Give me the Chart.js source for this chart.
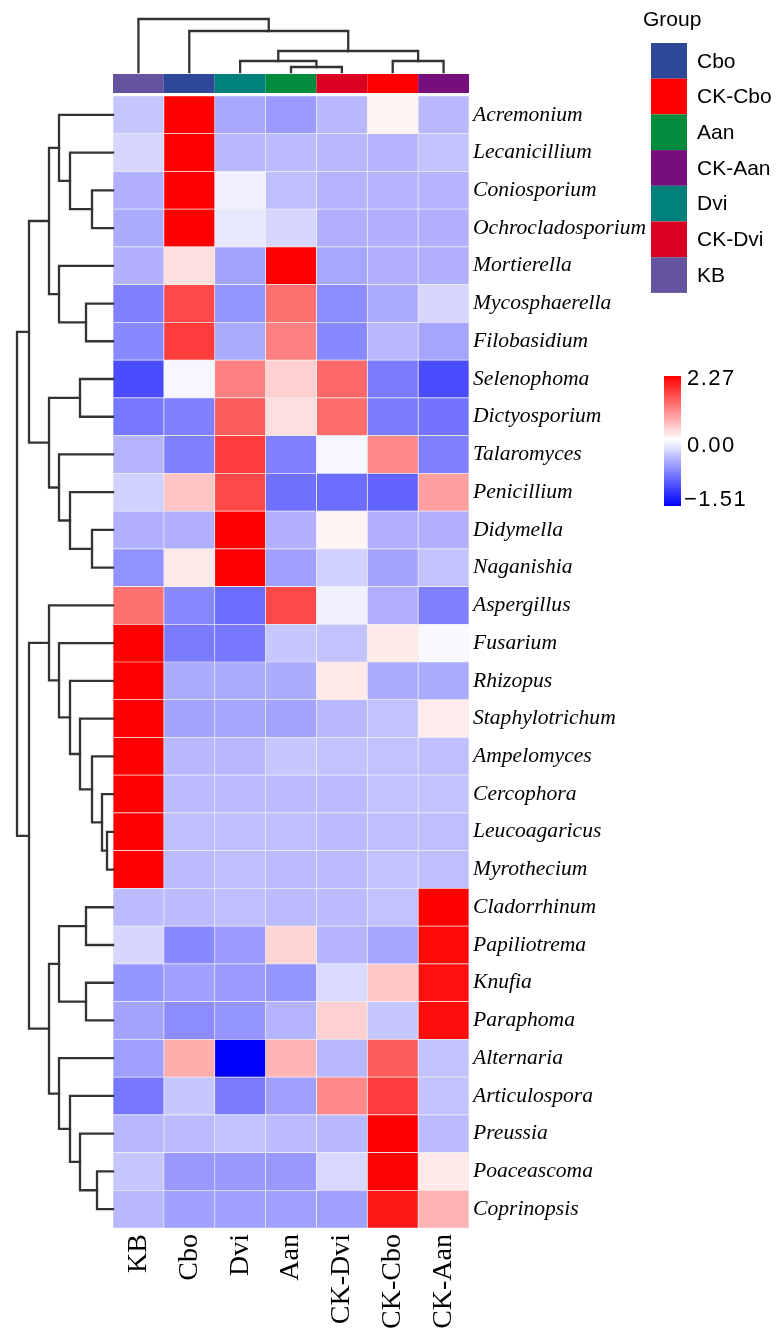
<!DOCTYPE html>
<html>
<head>
<meta charset="utf-8">
<script src="https://cdn.jsdelivr.net/npm/chart.js@4.4.0/dist/chart.umd.min.js"></script>
<style>
html,body{margin:0;padding:0;background:#fff;}
#wrap{width:779px;height:1344px;}
</style>
</head>
<body>
<div id="wrap"><canvas id="c" width="779" height="1344"></canvas></div>
<script>
// ---------- data ----------
const columns = ['KB','Cbo','Dvi','Aan','CK-Dvi','CK-Cbo','CK-Aan'];
const genera = ['Acremonium','Lecanicillium','Coniosporium','Ochrocladosporium','Mortierella','Mycosphaerella','Filobasidium','Selenophoma','Dictyosporium','Talaromyces','Penicillium','Didymella','Naganishia','Aspergillus','Fusarium','Rhizopus','Staphylotrichum','Ampelomyces','Cercophora','Leucoagaricus','Myrothecium','Cladorrhinum','Papiliotrema','Knufia','Paraphoma','Alternaria','Articulospora','Preussia','Poaceascoma','Coprinopsis'];

const valKB    = [-0.34,-0.24,-0.47,-0.49,-0.46,-0.75,-0.70,-1.06,-0.80,-0.44,-0.27,-0.47,-0.65,1.27,2.27,2.27,2.27,2.27,2.27,2.27,2.27,-0.40,-0.24,-0.62,-0.54,-0.56,-0.80,-0.42,-0.33,-0.42];
const valCbo   = [2.27,2.27,2.27,2.27,0.29,1.63,1.74,-0.05,-0.75,-0.75,0.52,-0.47,0.20,-0.70,-0.78,-0.49,-0.54,-0.42,-0.40,-0.38,-0.40,-0.40,-0.70,-0.56,-0.68,0.74,-0.33,-0.40,-0.61,-0.56];
const valDvi   = [-0.52,-0.42,-0.09,-0.14,-0.54,-0.63,-0.49,1.13,1.45,1.74,1.63,2.27,2.27,-0.87,-0.80,-0.49,-0.53,-0.42,-0.40,-0.38,-0.38,-0.38,-0.59,-0.60,-0.63,-1.51,-0.78,-0.36,-0.61,-0.56];
const valAan   = [-0.59,-0.40,-0.38,-0.24,2.27,1.27,1.13,0.42,0.29,-0.75,-0.84,-0.47,-0.56,1.63,-0.33,-0.49,-0.54,-0.33,-0.40,-0.38,-0.40,-0.40,0.38,-0.63,-0.44,0.67,-0.56,-0.40,-0.61,-0.56];
const valCKDvi = [-0.42,-0.42,-0.44,-0.47,-0.52,-0.68,-0.70,1.34,1.31,-0.05,-0.87,0.10,-0.27,-0.09,-0.36,0.20,-0.42,-0.36,-0.40,-0.40,-0.40,-0.40,-0.44,-0.22,0.42,-0.42,1.06,-0.42,-0.23,-0.56];
const valCKCbo = [0.10,-0.44,-0.44,-0.47,-0.47,-0.50,-0.42,-0.78,-0.78,1.06,-0.93,-0.47,-0.54,-0.47,0.19,-0.49,-0.36,-0.36,-0.36,-0.38,-0.36,-0.36,-0.53,0.49,-0.33,1.45,1.74,2.27,2.23,2.06];
const valCKAan = [-0.42,-0.36,-0.44,-0.47,-0.47,-0.24,-0.53,-1.06,-0.83,-0.75,0.85,-0.47,-0.36,-0.75,-0.04,-0.49,0.18,-0.38,-0.36,-0.38,-0.38,2.27,2.20,2.13,2.16,-0.36,-0.36,-0.40,0.20,0.67];

const scaleMax = 2.27;
const scaleMin = -1.51;
const scaleTicks = ['2.27','0.00','\u22121.51'];

const groupColors = ['#6454A0','#2E4798','#00807D','#008C3C','#DB0020','#FF0000','#740F7B']; // per column
const legendOrder = ['Cbo','CK-Cbo','Aan','CK-Aan','Dvi','CK-Dvi','KB'];

// dendrograms: [left, right, height]; leaves are indices
const rowTree = [
  [
    [[0,[1,[2,3,21],43],54],[4,[5,6,27],54],64],
    [[7,8,33],[9,[10,[11,12,21],43],54],64],
    84],
  [
    [13,[14,[15,[16,[17,[18,[19,20,6],11],21],33],43],54],64],
    [[[21,22,27],[23,24,27],54],[25,[26,[27,[28,29,16],33],43],54],64],
    84],
  96];
const colTree = [0,[1,[[2,[3,4,5],11],[5,6,11],21],41],53];

// ---------- helpers ----------
const valueColumns = [valKB,valCbo,valDvi,valAan,valCKDvi,valCKCbo,valCKAan];
function cellColor(v){
  if (v >= 0){
    const t = Math.min(v/scaleMax,1);
    const c = Math.round(255*(1-t));
    return `rgb(255,${c},${c})`;
  } else {
    const t = Math.min(-v/(-scaleMin),1);
    const c = Math.round(255*(1-t));
    return `rgb(${c},${c},255)`;
  }
}

const decorPlugin = {
  id:'decor',
  afterDraw(chart){
    const ctx = chart.ctx;
    const ca = chart.chartArea;
    const xs = chart.scales.x, ys = chart.scales.y;
    ctx.save();
    // annotation bar
    const annTop = ca.top - 22, annH = 19;
    columns.forEach((c,j)=>{
      const x0 = xs.getPixelForValue(j-0.5), x1 = xs.getPixelForValue(j+0.5);
      ctx.fillStyle = groupColors[j];
      ctx.fillRect(x0, annTop, x1-x0, annH);
    });
    // dendrograms
    ctx.strokeStyle = '#333';
    ctx.lineWidth = 2.3;
    ctx.lineCap = 'square';
    function drawRow(node){
      if (typeof node === 'number') return {p: ys.getPixelForValue(node), h:0};
      const a = drawRow(node[0]), b = drawRow(node[1]), h = node[2];
      const X = v => ca.left - v;
      ctx.beginPath();
      ctx.moveTo(X(a.h), a.p); ctx.lineTo(X(h), a.p);
      ctx.lineTo(X(h), b.p); ctx.lineTo(X(b.h), b.p);
      ctx.stroke();
      return {p:(a.p+b.p)/2, h};
    }
    drawRow(rowTree);
    const colBase = annTop - 2;
    function drawCol(node){
      if (typeof node === 'number') return {p: xs.getPixelForValue(node), h:0};
      const a = drawCol(node[0]), b = drawCol(node[1]), h = node[2];
      const Y = v => colBase - v;
      ctx.beginPath();
      ctx.moveTo(a.p, Y(a.h)); ctx.lineTo(a.p, Y(h));
      ctx.lineTo(b.p, Y(h)); ctx.lineTo(b.p, Y(b.h));
      ctx.stroke();
      return {p:(a.p+b.p)/2, h};
    }
    drawCol(colTree);

    // group legend
    ctx.fillStyle = '#000';
    ctx.font = '21px "Liberation Sans"';
    ctx.textBaseline = 'alphabetic';
    ctx.textAlign = 'left';
    ctx.fillText('Group', 643, 26);
    const lx = 651, ly = 43, lw = 36, lh = 35.7;
    legendOrder.forEach((g,i)=>{
      ctx.fillStyle = groupColors[columns.indexOf(g)];
      ctx.fillRect(lx, ly + i*lh, lw, lh);
      ctx.fillStyle = '#000';
      ctx.textBaseline = 'middle';
      ctx.fillText(g, 697, ly + i*lh + lh/2 + 1);
    });

    // colour bar
    const bx = 664, by = 376, bw = 17, bh = 130;
    const grad = ctx.createLinearGradient(0, by, 0, by+bh);
    grad.addColorStop(0, cellColor(scaleMax));
    grad.addColorStop(0.49, '#ffffff');
    grad.addColorStop(1, cellColor(scaleMin));
    ctx.fillStyle = grad;
    ctx.fillRect(bx, by, bw, bh);
    ctx.fillStyle = '#000';
    ctx.font = '22px "Liberation Sans"';
    try { ctx.letterSpacing = '1.5px'; } catch(e) {}
    ctx.textBaseline = 'middle';
    ctx.fillText(scaleTicks[0], 687, 379);
    ctx.fillText(scaleTicks[1], 687, 446);
    ctx.fillText(scaleTicks[2], 684, 500);
    ctx.restore();
  }
};

new Chart(document.getElementById('c'), {
  type:'bar',
  data:{
    labels: genera,
    datasets: columns.map((c,j)=>({
      label:c,
      data: genera.map(()=>[j-0.5, j+0.5]),
      backgroundColor: valueColumns[j].map(cellColor),
      borderColor:'#eeeeee',
      borderWidth:0.7,
      borderSkipped:false,
      grouped:false,
      barPercentage:1,
      categoryPercentage:1
    }))
  },
  options:{
    indexAxis:'y',
    responsive:false,
    animation:false,
    devicePixelRatio:1,
    events:[],
    layout:{padding:{left:113, top:96, right:0, bottom:0}},
    plugins:{legend:{display:false}, tooltip:{enabled:false}},
    scales:{
      x:{
        type:'linear', min:-0.5, max:6.5,
        afterBuildTicks(s){ s.ticks = columns.map((c,i)=>({value:i})); },
        afterFit(s){ s.height = 116; },
        ticks:{
          callback:(v)=>columns[v],
          minRotation:90, maxRotation:90, autoSkip:false,
          font:{family:'"Liberation Serif"', size:28},
          color:'#000', padding:6
        },
        grid:{display:false, drawTicks:false},
        border:{display:false}
      },
      y:{
        position:'right',
        afterFit(s){ s.width = 310; },
        ticks:{
          autoSkip:false,
          font:{family:'"Liberation Serif"', size:21.6, style:'italic'},
          color:'#000', padding:4
        },
        grid:{display:false, drawTicks:false},
        border:{display:false}
      }
    }
  },
  plugins:[decorPlugin]
});
</script>
</body>
</html>
